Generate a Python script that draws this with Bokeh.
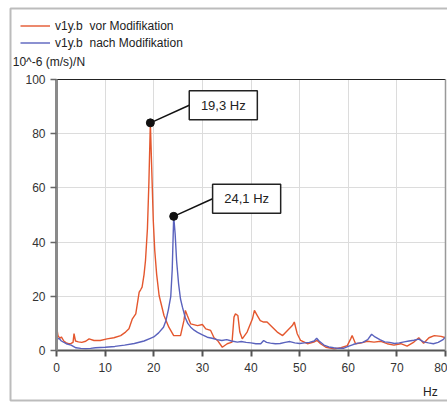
from bokeh.plotting import figure
from bokeh.models import Legend, LegendItem, Label, FixedTicker, LinearAxis, BoxAnnotation
from bokeh.core.properties import value
from bokeh.embed import file_html
from bokeh.resources import INLINE
import numpy as np

# ---- data -----------------------------------------------------------
freq_vor = [0, 0.3, 0.7, 1.0, 1.5, 2.0, 2.5, 3.0, 3.4, 3.6, 3.9, 4.5, 5.2, 6.0, 6.7, 7.7, 9.0, 10.4,
            11.8, 13.2, 14.2, 14.9, 15.6, 16.3, 17.0, 17.3, 17.6, 18.0, 18.3, 18.7, 19.0, 19.3,
            19.6, 19.9, 20.2, 20.6, 21.1, 22.1, 23.1, 24.1, 25.5, 26.2, 26.5, 26.9, 27.6, 29.0,
            30.0, 30.7, 31.7, 32.4, 33.1, 34.1, 35.1, 36.1, 36.5, 36.8, 37.3, 37.7, 38.2, 39.2,
            40.3, 40.7, 41.3, 41.9, 42.6, 43.3, 44.4, 45.4, 46.5, 47.5, 48.5, 48.9, 49.5, 50.2,
            51.6, 52.9, 53.6, 54.3, 55.4, 57.1, 58.5, 59.8, 60.5, 60.8, 61.5, 62.5, 63.9, 65.3,
            66.7, 68.0, 69.4, 70.8, 72.1, 73.5, 74.5, 75.5, 76.6, 77.7, 79.1, 80.0]
amp_vor = [9.0, 5.5, 4.5, 5.0, 3.5, 2.8, 2.5, 2.6, 3.0, 6.2, 3.5, 3.2, 3.0, 3.4, 4.3, 3.7, 3.7, 4.3,
           4.7, 5.5, 6.8, 8.0, 11.7, 13.5, 21.5, 22.4, 23.4, 28.0, 33.2, 45.0, 62.0, 84.0,
           66.0, 48.0, 37.0, 28.0, 20.3, 12.9, 8.6, 5.5, 5.5, 11.0, 14.8, 12.9, 9.8, 9.2,
           9.6, 8.0, 7.4, 4.7, 3.7, 1.2, 2.5, 3.1, 12.3, 13.5, 12.9, 6.8, 4.3, 6.8,
           11.7, 14.8, 12.9, 11.0, 10.5, 10.5, 8.6, 6.8, 5.5, 7.4, 9.2, 10.5, 6.2, 3.7,
           2.5, 3.1, 3.7, 2.5, 1.2, 0.6, 1.0, 1.8, 4.3, 5.5, 2.5, 2.7, 3.4, 3.1,
           3.4, 2.5, 2.0, 2.5, 1.6, 3.1, 4.7, 2.7, 4.7, 5.5, 5.2, 4.7]

freq_nach = [0, 0.5, 1.0, 2.0, 3.0, 4.0, 5.0, 6.0, 7.0, 8.0, 10.0, 12.0, 14.0, 16.0, 18.0, 19.3,
             20.0, 21.0, 22.0, 22.5, 23.0, 23.5, 23.8, 24.1, 24.4, 24.7, 25.1, 25.5, 25.9, 26.5,
             27.0, 27.6, 28.3, 29.0, 30.0, 31.0, 32.0, 33.0, 34.0, 35.0, 36.0, 37.2, 38.0, 39.0,
             40.0, 41.0, 42.0, 42.6, 43.2, 44.0, 45.0, 46.0, 47.0, 48.0, 49.0, 50.0, 51.0, 52.0,
             53.0, 53.5, 54.0, 55.0, 56.0, 57.0, 58.0, 59.0, 60.0, 61.0, 62.0, 63.0, 64.0, 64.8,
             65.5, 66.5, 67.5, 68.5, 69.5, 70.5, 71.5, 72.5, 73.5, 74.5, 75.5, 76.5, 77.5, 78.5,
             79.5, 80.0]
amp_nach = [4.0, 4.5, 3.5, 2.5, 2.0, 1.0, 0.8, 0.7, 0.8, 1.0, 1.2, 1.5, 2.0, 2.6, 3.5, 4.5,
            5.0, 6.5, 8.6, 11.0, 15.0, 20.0, 30.0, 49.5, 43.0, 33.0, 24.7, 19.0, 16.0, 12.0,
            10.0, 8.6, 7.5, 6.7, 5.8, 4.9, 4.5, 4.0, 3.7, 4.0, 3.5, 3.1, 3.3, 3.0,
            2.8, 2.5, 2.5, 3.7, 3.0, 2.7, 2.5, 2.6, 3.0, 3.3, 2.8, 2.6, 2.8, 3.0,
            3.5, 4.5, 3.5, 2.0, 1.3, 1.0, 0.8, 0.8, 1.5, 2.2, 2.7, 3.0, 4.0, 6.0,
            5.0, 4.0, 3.2, 3.0, 2.6, 2.8, 3.2, 3.5, 3.8, 4.2, 3.2, 2.8, 2.5, 3.0,
            4.0, 5.0]

series_names = ["v1y.b  vor Modifikation", "v1y.b  nach Modifikation"]
y_unit = "10^-6 (m/s)/N"
x_unit = "Hz"
x_ticks = [0, 10, 20, 30, 40, 50, 60, 70, 80]
y_ticks = [0, 20, 40, 60, 80, 100]

# ---- styles ---------------------------------------------------------
RED = "#e4572e"
BLUE = "#5a62bd"
FONT = "Liberation Sans"
X0, X1 = x_ticks[0], x_ticks[-1]
Y0, Y1 = y_ticks[0], y_ticks[-1]

# frame fills the whole canvas; axes sit at fixed data locations inside it
p = figure(width=447, height=403, output_backend="svg", toolbar_location=None, title=None,
           x_range=(-11.52, 80.41), y_range=(-19.56, 129.15),
           min_border_left=0, min_border_right=0, min_border_top=0, min_border_bottom=0)
p.background_fill_color = "white"
p.border_fill_color = "white"
p.outline_line_color = None

p.xgrid.ticker = FixedTicker(ticks=x_ticks)
p.ygrid.ticker = FixedTicker(ticks=y_ticks)
p.xgrid.grid_line_color = "#dcdcdc"
p.ygrid.grid_line_color = "#dcdcdc"
try:
    p.xgrid.cross_bounds = (Y0, Y1)
    p.ygrid.cross_bounds = (X0, X1)
except AttributeError:
    p.xgrid.visible = False
    p.ygrid.visible = False
    p.segment(x0=x_ticks, y0=[Y0] * len(x_ticks), x1=x_ticks, y1=[Y1] * len(x_ticks),
              line_color="#dcdcdc", line_width=1)
    p.segment(x0=[X0] * len(y_ticks), y0=y_ticks, x1=[X1] * len(y_ticks), y1=y_ticks,
              line_color="#dcdcdc", line_width=1)

xa, ya = p.xaxis[0], p.yaxis[0]
xa.ticker = FixedTicker(ticks=x_ticks)
ya.ticker = FixedTicker(ticks=y_ticks)
xa.fixed_location = Y0
ya.fixed_location = X0
xa.bounds = (X0, X1)
ya.bounds = (Y0, Y1)
for ax in (xa, ya):
    ax.minor_tick_line_color = None
    ax.major_tick_in = 0
    ax.major_tick_out = 6
    ax.major_label_text_font = FONT
    ax.major_label_text_font_size = "12px"
    ax.major_label_text_color = "#333"
ya.major_label_standoff = 5
xa.major_label_standoff = 7
ya.axis_line_color = "#8a8a8a"
ya.axis_line_width = 3
ya.major_tick_line_color = "#666"
ya.major_tick_line_width = 1.5
xa.axis_line_color = "#555"
xa.axis_line_width = 2
xa.major_tick_line_color = "#555"
xa.major_tick_line_width = 2

# frame lines on top and right (axes without ticks)
top_ax = LinearAxis(fixed_location=Y1, bounds=(X0, X1), ticker=FixedTicker(ticks=[]),
                    axis_line_color="#222", axis_line_width=1.2,
                    major_tick_line_color=None, minor_tick_line_color=None)
right_ax = LinearAxis(fixed_location=X1, bounds=(Y0, Y1), ticker=FixedTicker(ticks=[]),
                      axis_line_color="#999", axis_line_width=1.5,
                      major_tick_line_color=None, minor_tick_line_color=None)
p.add_layout(top_ax, "above")
p.add_layout(right_ax, "right")

r_vor = p.line(freq_vor, amp_vor, line_color=RED, line_width=1.4)
r_nach = p.line(freq_nach, amp_nach, line_color=BLUE, line_width=1.4)

# ---- peak callouts ---------------------------------------------------
off_x, off_y = 15.0, 6.5
box_w, box_h = 14.0, 10.7
for fr, am in ((freq_vor, amp_vor), (freq_nach, amp_nach)):
    i = int(np.argmax(am))
    px, py = fr[i], am[i]
    cx, cy = px + off_x, py + off_y
    p.segment(x0=[px], y0=[py], x1=[cx - box_w / 2], y1=[cy], line_color="#111", line_width=1.5)
    p.scatter([px], [py], size=8, color="#111")
    p.rect([cx], [cy], width=box_w, height=box_h, fill_color="white",
           line_color="#222", line_width=1.5)
    txt = ("%.1f Hz" % px).replace(".", ",")
    p.text([cx], [cy], text=[txt], text_align="center", text_baseline="middle",
           text_font=value(FONT), text_font_size="13px", text_color="#222")

# ---- unit labels -----------------------------------------------------
p.add_layout(Label(x=-9.0, y=106.5, text=y_unit, text_font=FONT,
                   text_font_size="12px", text_color="#222", text_baseline="middle",
                   text_align="left"))
p.add_layout(Label(x=76.9, y=-15.5, text=x_unit, text_font=FONT,
                   text_font_size="12px", text_color="#222", text_baseline="middle",
                   text_align="center"))

# ---- outer frame box -------------------------------------------------
p.add_layout(BoxAnnotation(left=-9.46, right=90, top=126.2, bottom=-18.45,
                           fill_alpha=0, line_color="#222", line_width=2))

# ---- legend ----------------------------------------------------------
legend = Legend(items=[LegendItem(label=series_names[0], renderers=[r_vor]),
                       LegendItem(label=series_names[1], renderers=[r_nach])],
                location=(20, 352), padding=0, margin=0, spacing=0,
                label_height=17, glyph_height=17, glyph_width=30, label_standoff=5,
                label_text_font=FONT, label_text_font_size="12px", label_text_color="#222",
                background_fill_alpha=0, border_line_alpha=0)
p.add_layout(legend)

open("out.html", "w").write(file_html(p, INLINE))
